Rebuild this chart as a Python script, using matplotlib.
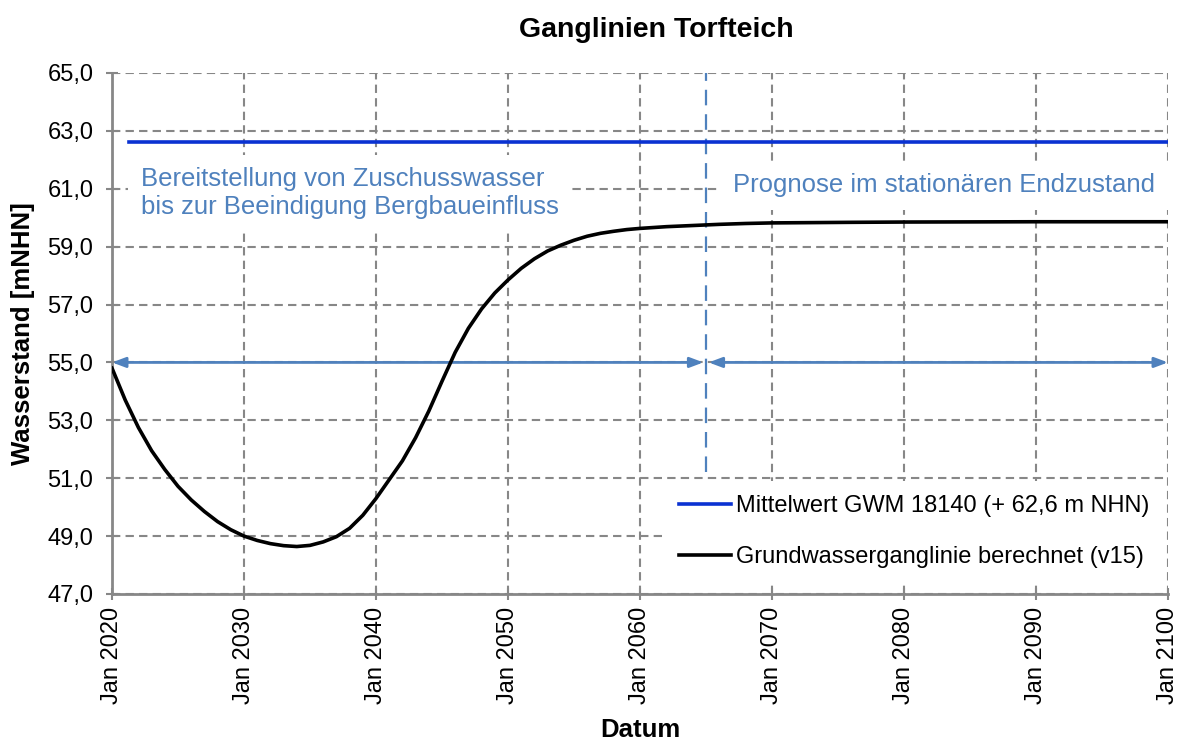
#!/usr/bin/env python3
import matplotlib
matplotlib.use("Agg")
import matplotlib.pyplot as plt

# Ganglinie (v15)
years = [2020, 2021, 2022, 2023, 2024, 2025, 2026, 2027, 2028, 2029,
         2030, 2031, 2032, 2033, 2034, 2035, 2036, 2037, 2038, 2039,
         2040, 2041, 2042, 2043, 2044, 2045, 2046, 2047, 2048, 2049,
         2050, 2051, 2052, 2053, 2054, 2055, 2056, 2057, 2058, 2059,
         2060, 2062, 2064, 2066, 2068, 2070, 2076, 2080, 2090, 2100]
levels = [54.80, 53.70, 52.75, 51.95, 51.30, 50.72, 50.25, 49.85, 49.50, 49.22,
          49.00, 48.85, 48.74, 48.67, 48.64, 48.68, 48.80, 48.98, 49.27, 49.72,
          50.30, 50.95, 51.60, 52.40, 53.32, 54.35, 55.35, 56.18, 56.85, 57.40,
          57.85, 58.25, 58.58, 58.85, 59.05, 59.22, 59.36, 59.46, 59.53, 59.59,
          59.63, 59.69, 59.73, 59.77, 59.80, 59.82, 59.84, 59.85, 59.86, 59.86]

mean_years = [2021.3, 2100]
mean_level = [62.6, 62.6]

split_year = 2065
arrow_level = 55.0

xticks = [2020, 2030, 2040, 2050, 2060, 2070, 2080, 2090, 2100]
xticklabels = ["Jan %d" % y for y in xticks]
yticks = [47, 49, 51, 53, 55, 57, 59, 61, 63, 65]

txt_blue = "#4f81bd"
grid_col = "#878787"


def plot():
    plt.rcParams["font.family"] = ["Liberation Sans", "DejaVu Sans"]
    fig = plt.figure(figsize=(11.83, 7.40), dpi=100)
    ax = fig.add_axes([0.0947, 0.1973, 0.8926, 0.7041])

    ax.plot(mean_years, mean_level, color="#0a32d2", lw=2.6,
            label="Mittelwert GWM 18140 (+ 62,6 m NHN)", zorder=4)
    ax.plot(years, levels, color="black", lw=2.6,
            label="Grundwasserganglinie berechnet (v15)", zorder=4)

    # Trennlinie und Pfeile
    ax.plot([split_year, split_year], [51.2, 65], color=txt_blue, lw=1.6,
            linestyle=(0, (7, 4)), zorder=3)
    arrow = dict(arrowstyle="<|-|>,head_length=0.8,head_width=0.3",
                 color=txt_blue, lw=2, shrinkA=0, shrinkB=0)
    ax.annotate("", xy=(2020, arrow_level), xytext=(split_year - 0.2, arrow_level),
                arrowprops=arrow, zorder=3)
    ax.annotate("", xy=(split_year + 0.2, arrow_level), xytext=(2100, arrow_level),
                arrowprops=arrow, zorder=3)

    box = dict(facecolor="white", edgecolor="none", pad=9)
    ax.text(2022.2, 60.85, "Bereitstellung von Zuschusswasser\nbis zur Beeindigung Bergbaueinfluss",
            color=txt_blue, fontsize=18.5, ha="left", va="center",
            linespacing=1.2, bbox=box, zorder=5)
    ax.text(2067.05, 61.12, "Prognose im stationären Endzustand",
            color=txt_blue, fontsize=18.5, ha="left", va="center",
            bbox=box, zorder=5)

    ax.set_xlim(2020, 2100)
    ax.set_ylim(47, 65)
    ax.set_xticks(xticks)
    ax.set_xticklabels(xticklabels, rotation=90)
    ax.set_yticks(yticks)
    ax.yaxis.set_major_formatter(
        matplotlib.ticker.FuncFormatter(lambda v, p: ("%.1f" % v).replace(".", ",")))
    ax.tick_params(direction="inout", length=9, width=1.5, color=grid_col,
                   labelsize=17)
    ax.tick_params(axis="y", pad=9)
    ax.tick_params(axis="x", pad=5)

    ax.grid(True, color=grid_col, lw=1.5, linestyle=(0, (4, 2.5)))
    ax.set_axisbelow(True)
    for s in ["top", "right"]:
        ax.spines[s].set_visible(False)
    for s in ["left", "bottom"]:
        ax.spines[s].set_color(grid_col)
        ax.spines[s].set_linewidth(2)

    ax.set_xlabel("Datum", fontsize=18.5, fontweight="bold", labelpad=10)
    ax.set_ylabel("Wasserstand [mNHN]", fontsize=18.5, fontweight="bold", labelpad=9)
    fig.text(0.555, 0.959, "Ganglinien Torfteich", fontsize=20.5,
             fontweight="bold", ha="center", va="center")

    leg = ax.legend(loc="upper left", bbox_to_anchor=(0.512, 0.24), fontsize=17,
                    handlelength=2.2, handletextpad=0.25, labelspacing=1.25,
                    borderpad=0.6, fancybox=False, framealpha=1)
    leg.get_frame().set_edgecolor("none")
    leg.set_zorder(6)

    fig.savefig("out.png", dpi=100)


def main():
    plot()


if __name__ == "__main__":
    main()
